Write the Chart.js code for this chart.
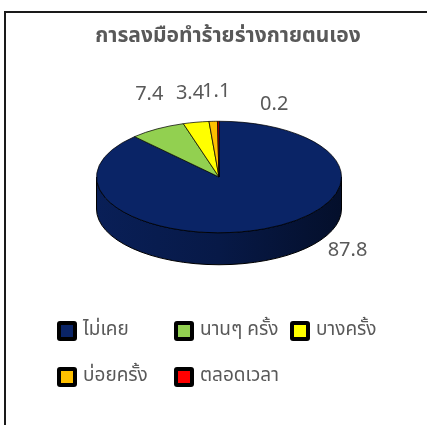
<!DOCTYPE html>
<html>
<head>
<meta charset="utf-8">
<script src="https://cdn.jsdelivr.net/npm/chart.js@4/dist/chart.umd.min.js"></script>
<style>
  html, body { margin: 0; padding: 0; background: #fff; }
  #wrap { position: relative; width: 427px; height: 425px; overflow: hidden; }
  #frame { position: absolute; left: 4px; top: 11px; width: 500px; height: 500px;
           border-left: 2px solid #1a1a1a; border-top: 2px solid #1a1a1a; }
  canvas { position: absolute; left: 0; top: 0; }
</style>
</head>
<body>
<div id="wrap">
  <div id="frame"></div>
  <canvas id="pie" width="427" height="425"></canvas>
</div>
<script>
const TITLE = 'การลงมือทำร้ายร่างกายตนเอง';
const categories = ['ไม่เคย', 'นานๆ ครั้ง', 'บางครั้ง', 'บ่อยครั้ง', 'ตลอดเวลา'];
const values = [87.8, 7.4, 3.4, 1.1, 0.2];
const colors = ['#0a2466', '#92d050', '#ffff00', '#ffc000', '#ff0000'];

const FONT = 'Tahoma, "Leelawadee UI", "Noto Sans Thai", Loma, Garuda, sans-serif';
const TEXT = '#595959';

// tilt of the pie (vertical squash) and thickness of the rim
const TILT = 0.455;
const DEPTH = 32;

// where each value label sits relative to the outer edge of its slice
const labelOffsets = [[83, 23], [-8, -33], [-6, -27], [3, -28], [56, -15]];

// legend grid: column x positions, row y centres
const legendCols = [57, 174, 290];
const legendRows = [331, 377];

function shade(hex, f) {
  const n = parseInt(hex.slice(1), 16);
  const r = Math.round(((n >> 16) & 255) * f);
  const g = Math.round(((n >> 8) & 255) * f);
  const b = Math.round((n & 255) * f);
  return `rgb(${r},${g},${b})`;
}

const pie3d = {
  id: 'pie3d',
  beforeDatasetsDraw(chart) {
    const ctx = chart.ctx;
    const meta = chart.getDatasetMeta(0);
    const a0 = meta.data[0];
    const cx = a0.x, cy = a0.y, R = a0.outerRadius, ry = R * TILT;

    // rim: only the front half (0..PI) of each slice is visible
    meta.data.forEach((arc, i) => {
      const s = arc.startAngle, e = arc.endAngle;
      const segs = [];
      for (let k = -1; k <= 1; k++) {
        const lo = Math.max(s, k * 2 * Math.PI), hi = Math.min(e, k * 2 * Math.PI + Math.PI);
        if (hi > lo) segs.push([lo, hi]);
      }
      segs.forEach(([lo, hi]) => {
        const g = ctx.createLinearGradient(cx - R, 0, cx + R, 0);
        g.addColorStop(0, shade(colors[i], 0.85));
        g.addColorStop(0.5, shade(colors[i], 0.7));
        g.addColorStop(0.85, shade(colors[i], 0.5));
        g.addColorStop(1, shade(colors[i], 0.42));
        ctx.save();
        ctx.beginPath();
        ctx.ellipse(cx, cy, R, ry, 0, lo, hi);
        ctx.ellipse(cx, cy + DEPTH, R, ry, 0, hi, lo, true);
        ctx.closePath();
        ctx.fillStyle = g;
        ctx.fill();
        ctx.lineWidth = 1;
        ctx.strokeStyle = '#000';
        ctx.stroke();
        ctx.restore();
      });
    });

    // squash the top face
    ctx.save();
    ctx.translate(cx, cy);
    ctx.scale(1, TILT);
    ctx.translate(-cx, -cy);
  },
  afterDatasetsDraw(chart) {
    const ctx = chart.ctx;
    ctx.restore();

    const meta = chart.getDatasetMeta(0);
    ctx.save();
    ctx.fillStyle = TEXT;
    ctx.textAlign = 'center';
    ctx.textBaseline = 'middle';
    ctx.font = '20px ' + FONT;
    meta.data.forEach((arc, i) => {
      const mid = (arc.startAngle + arc.endAngle) / 2;
      const x = arc.x + arc.outerRadius * Math.cos(mid) + labelOffsets[i][0];
      const y = arc.y + arc.outerRadius * TILT * Math.sin(mid) + labelOffsets[i][1];
      ctx.fillText(String(values[i]), x, y);
    });
    ctx.restore();
  },
  afterDraw(chart) {
    const ctx = chart.ctx;
    ctx.save();
    // title
    ctx.fillStyle = TEXT;
    ctx.textAlign = 'center';
    ctx.textBaseline = 'middle';
    ctx.font = 'bold 21px ' + FONT;
    ctx.fillText(TITLE, 228, 38);

    // legend
    ctx.textAlign = 'left';
    ctx.font = '19px ' + FONT;
    categories.forEach((name, i) => {
      const x = legendCols[i % 3], y = legendRows[Math.floor(i / 3)];
      ctx.fillStyle = '#000';
      ctx.beginPath();
      ctx.roundRect(x, y - 10, 20, 20, 3);
      ctx.fill();
      ctx.fillStyle = colors[i];
      ctx.fillRect(x + 4, y - 6, 12, 12);
      ctx.fillStyle = TEXT;
      ctx.fillText(name, x + 26, y);
    });
    ctx.restore();
  }
};

new Chart(document.getElementById('pie'), {
  type: 'pie',
  data: {
    labels: categories,
    datasets: [{
      data: values,
      backgroundColor: colors,
      borderColor: '#000',
      borderWidth: 1
    }]
  },
  options: {
    responsive: false,
    animation: false,
    devicePixelRatio: 1,
    layout: { padding: { left: 96, right: 85, top: 54, bottom: 125 } },
    plugins: {
      legend: { display: false },
      title: { display: false },
      tooltip: { enabled: false }
    }
  },
  plugins: [pie3d]
});
</script>
</body>
</html>
